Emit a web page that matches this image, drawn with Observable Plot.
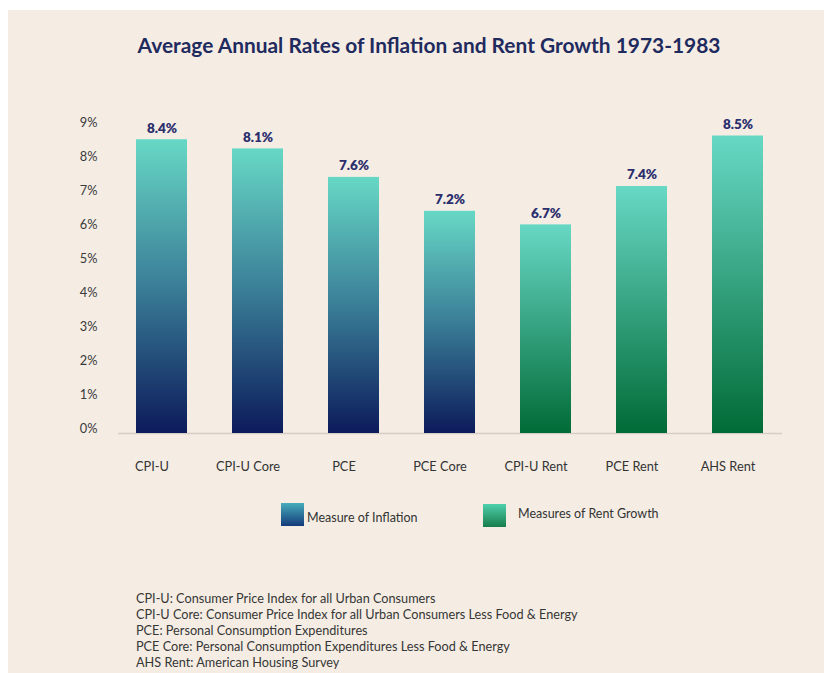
<!DOCTYPE html>
<html>
<head>
<meta charset="utf-8">
<script src="https://cdn.jsdelivr.net/npm/d3@7"></script>
<script src="https://cdn.jsdelivr.net/npm/@observablehq/plot@0.6"></script>
<style>
  html, body { margin: 0; padding: 0; background: #ffffff; }
  body { width: 824px; height: 673px; position: relative; overflow: hidden; font-family: Lato, "Open Sans", sans-serif; }
  #bg { position: absolute; left: 8px; top: 10px; width: 816px; height: 663px; background: #f5ede4; }
  #title { position: absolute; left: 0; top: 32px; width: 858px; text-align: center; line-height: 26px;
           font-size: 20.9px; font-weight: 700; color: #1f2a5e; white-space: nowrap; }
  #chart { position: absolute; left: 0; top: 90px; }
  .leg-sw { position: absolute; width: 23px; height: 23px; }
  .leg-tx { position: absolute; font-size: 12.5px; line-height: 16px; color: #333; white-space: nowrap; }
  #notes { position: absolute; left: 136px; top: 590px; font-size: 12.7px; line-height: 16px; color: #363636; }
  #notes div { white-space: nowrap; }
</style>
</head>
<body>
<div id="bg"></div>
<div id="title"></div>
<div id="chart"></div>
<div id="legend"></div>
<div id="notes"></div>
<script>
const titleText = "Average Annual Rates of Inflation and Rent Growth 1973-1983";
const categories = ["CPI-U", "CPI-U Core", "PCE", "PCE Core", "CPI-U Rent", "PCE Rent", "AHS Rent"];
const barValues = [8.66, 8.39, 7.55, 6.55, 6.15, 7.28, 8.77];
const valueLabels = ["8.4%", "8.1%", "7.6%", "7.2%", "6.7%", "7.4%", "8.5%"];
const legendLabels = ["Measure of Inflation", "Measures of Rent Growth"];
const groups = [legendLabels[0], legendLabels[0], legendLabels[0], legendLabels[0], legendLabels[1], legendLabels[1], legendLabels[1]];
const yTicks = [0, 1, 2, 3, 4, 5, 6, 7, 8, 9];
const yTickLabels = ["0%", "1%", "2%", "3%", "4%", "5%", "6%", "7%", "8%", "9%"];
const notes = [
  "CPI-U: Consumer Price Index for all Urban Consumers",
  "CPI-U Core: Consumer Price Index for all Urban Consumers Less Food & Energy",
  "PCE: Personal Consumption Expenditures",
  "PCE Core: Personal Consumption Expenditures Less Food & Energy",
  "AHS Rent: American Housing Survey"
];

const rows = categories.map((c, i) => ({ category: c, value: barValues[i], label: valueLabels[i], group: groups[i] }));

const gradInfl = [[0, "#67d8c5"], [0.5, "#3a7e97"], [1, "#0c1b5b"]];
const gradRent = [[0, "#67d8c5"], [0.5, "#35a27f"], [1, "#016b36"]];

const defsMark = () => {
  const defs = d3.create("svg:defs");
  const mk = (id, stops) => {
    const g = defs.append("linearGradient").attr("id", id)
      .attr("x1", 0).attr("y1", 0).attr("x2", 0).attr("y2", 1);
    stops.forEach(([o, c]) => g.append("stop").attr("offset", o).attr("stop-color", c));
  };
  mk("gInfl", gradInfl);
  mk("gRent", gradRent);
  return defs.node();
};

document.getElementById("title").textContent = titleText;

const chart = Plot.plot({
  width: 824,
  height: 390,
  marginLeft: 118,
  marginRight: 42,
  marginTop: 37.7,
  marginBottom: 47,
  style: { background: "transparent", fontFamily: "Lato, 'Open Sans', sans-serif" },
  x: { domain: categories, paddingInner: 0.467, paddingOuter: 0.19, label: null },
  y: { domain: [0, 9], label: null },
  marks: [
    defsMark,
    Plot.ruleY([0], { stroke: "#d6cec5", strokeWidth: 1.5 }),
    Plot.barY(rows.filter(d => d.group === legendLabels[0]), { x: "category", y: "value", fill: "url(#gInfl)" }),
    Plot.barY(rows.filter(d => d.group === legendLabels[1]), { x: "category", y: "value", fill: "url(#gRent)" }),
    Plot.text(rows, { x: "category", y: "value", text: "label", dy: -11.5, fontWeight: 800, fontSize: 13.5, fill: "#2c2f6e" }),
    Plot.axisX({ tickSize: 0, tickPadding: 28, dx: -10, fontSize: 12.8, color: "#333" }),
    Plot.axisY({ ticks: yTicks, tickFormat: d => yTickLabels[yTicks.indexOf(d)], tickSize: 0, tickPadding: 21, dy: -5, fontSize: 12.8, color: "#3a3a3a" })
  ]
});
document.getElementById("chart").appendChild(chart);

// Legend
const legend = document.getElementById("legend");
const legSpecs = [
  { sx: 281, sy: 503, tx: 307, ty: 510, grad: "linear-gradient(#46adbb, #143a7a)" },
  { sx: 483, sy: 504, tx: 518, ty: 506, grad: "linear-gradient(#4fd0ad, #177d4b)" }
];
legendLabels.forEach((lab, i) => {
  const s = legSpecs[i];
  const sw = document.createElement("div");
  sw.className = "leg-sw";
  sw.style.left = s.sx + "px"; sw.style.top = s.sy + "px"; sw.style.background = s.grad;
  legend.appendChild(sw);
  const tx = document.createElement("div");
  tx.className = "leg-tx";
  tx.style.left = s.tx + "px"; tx.style.top = s.ty + "px";
  tx.textContent = lab;
  legend.appendChild(tx);
});

// Notes
const notesEl = document.getElementById("notes");
notes.forEach(n => { const d = document.createElement("div"); d.textContent = n; notesEl.appendChild(d); });
</script>
</body>
</html>
